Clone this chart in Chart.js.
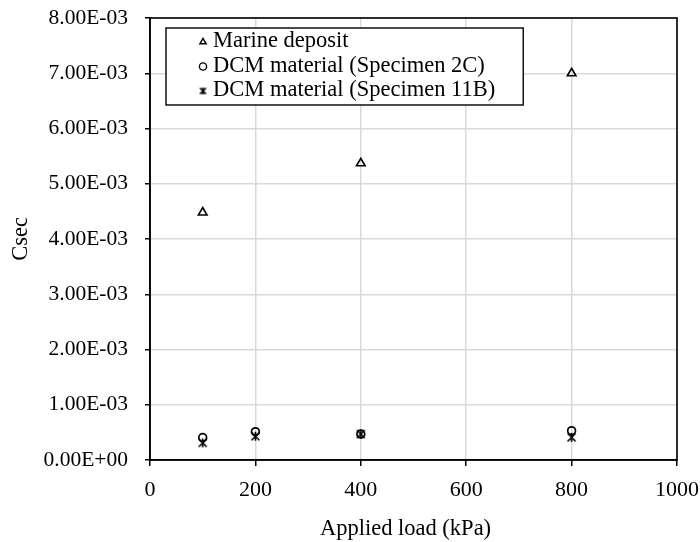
<!DOCTYPE html>
<html>
<head>
<meta charset="utf-8">
<script src="https://cdn.jsdelivr.net/npm/chart.js@4.4.1/dist/chart.umd.min.js"></script>
<style>
  html, body { margin: 0; padding: 0; background: #fff; }
  #wrap { width: 700px; height: 542px; }
</style>
</head>
<body>
<div id="wrap"><canvas id="c" width="700" height="542"></canvas></div>
<script>
// Applied load (kPa) and secondary compression coefficient per material
const marineLoads = [100, 400, 800];
const marineCsec = [0.00448, 0.00537, 0.00700];

const dcm2CLoads = [100, 200, 400, 800];
const dcm2CCsec = [0.000405, 0.000512, 0.00047, 0.000530];

const dcm11BLoads = [100, 200, 400, 800];
const dcm11BCsec = [0.00031, 0.00043, 0.00047, 0.000410];

const seriesLabels = [
  'Marine deposit',
  'DCM material (Specimen 2C)',
  'DCM material (Specimen 11B)'
];

const xTicks = [0, 200, 400, 600, 800, 1000];
const yTicks = [0, 0.001, 0.002, 0.003, 0.004, 0.005, 0.006, 0.007, 0.008];

const xTitle = 'Applied load (kPa)';
const yTitle = 'Csec';

const FONT = '"Liberation Serif", "Times New Roman", serif';

function toPairs(xs, ys) { return xs.map((x, i) => ({ x: x, y: ys[i] })); }

// Excel-style scientific label: 8.00E-03
function sci(v) {
  if (Math.abs(v) < 1e-12) return '0.00E+00';
  const exp = Math.floor(Math.log10(Math.abs(v)) + 1e-9);
  const mant = v / Math.pow(10, exp);
  const sign = exp < 0 ? '-' : '+';
  const e = String(Math.abs(exp)).padStart(2, '0');
  return mant.toFixed(2) + 'E' + sign + e;
}

// asterisk marker (x with a vertical stroke)
function asterisk(size, lw) {
  const cv = document.createElement('canvas');
  cv.width = size; cv.height = size;
  const g = cv.getContext('2d');
  g.strokeStyle = '#000';
  g.lineWidth = lw;
  const m = size / 2, r = size / 2 - 1.5;
  g.beginPath();
  g.moveTo(m - r, m - r); g.lineTo(m + r, m + r);
  g.moveTo(m + r, m - r); g.lineTo(m - r, m + r);
  g.moveTo(m, m - r - 0.5); g.lineTo(m, m + r + 0.5);
  g.stroke();
  return cv;
}
const starBig = asterisk(11, 1.6);
const starSmall = asterisk(9, 1.6);

// full frame around the plot area + x axis title
const frame = {
  id: 'frame',
  afterDraw(chart) {
    const { ctx, chartArea: a } = chart;
    ctx.save();
    ctx.strokeStyle = '#000';
    ctx.lineWidth = 1.6;
    ctx.strokeRect(a.left, a.top, a.right - a.left, a.bottom - a.top);
    ctx.fillStyle = '#000';
    ctx.font = '22.5px ' + FONT;
    ctx.textAlign = 'center';
    ctx.textBaseline = 'alphabetic';
    ctx.fillText(xTitle, (a.left + a.right) / 2 - 8, 535);
    ctx.restore();
  }
};

// boxed legend inside the plot area
const boxLegend = {
  id: 'boxLegend',
  afterDraw(chart) {
    const { ctx } = chart;
    const x0 = 166, y0 = 28, rowH = 24.5, h = 77;
    const markX = 203, textX = 213;
    ctx.save();
    ctx.font = '22.5px ' + FONT;
    let maxW = 0;
    chart.data.datasets.forEach(ds => { maxW = Math.max(maxW, ctx.measureText(ds.label).width); });
    const w = textX + maxW + 28 - x0;
    ctx.fillStyle = '#fff';
    ctx.fillRect(x0, y0, w, h);
    ctx.strokeStyle = '#000';
    ctx.lineWidth = 1.4;
    ctx.strokeRect(x0, y0, w, h);
    chart.data.datasets.forEach((ds, i) => {
      const base = 47 + i * rowH;
      ctx.strokeStyle = '#000';
      ctx.fillStyle = '#fff';
      ctx.lineWidth = 1.4;
      const style = ds.pointStyle === starBig ? starSmall : ds.pointStyle;
      Chart.helpers.drawPoint(ctx, { pointStyle: style, radius: 3.6, rotation: 0, borderWidth: 1.4 }, markX, base - 5);
      ctx.fillStyle = '#000';
      ctx.textBaseline = 'alphabetic';
      ctx.textAlign = 'left';
      ctx.fillText(ds.label, textX, base);
    });
    ctx.restore();
  }
};

new Chart(document.getElementById('c'), {
  type: 'scatter',
  data: {
    datasets: [
      { label: seriesLabels[0], data: toPairs(marineLoads, marineCsec), pointStyle: 'triangle',
        pointRadius: 5, borderColor: '#000', backgroundColor: 'rgba(0,0,0,0)', borderWidth: 1.6 },
      { label: seriesLabels[1], data: toPairs(dcm2CLoads, dcm2CCsec), pointStyle: 'circle',
        pointRadius: 3.9, borderColor: '#000', backgroundColor: 'rgba(0,0,0,0)', borderWidth: 1.7 },
      { label: seriesLabels[2], data: toPairs(dcm11BLoads, dcm11BCsec), pointStyle: starBig,
        pointRadius: 5, borderColor: '#000', backgroundColor: 'rgba(0,0,0,0)', borderWidth: 1.6 }
    ]
  },
  options: {
    responsive: false,
    animation: false,
    devicePixelRatio: 1,
    layout: { padding: { left: 0, top: 18, right: 23, bottom: 0 } },
    plugins: { legend: { display: false }, tooltip: { enabled: false } },
    scales: {
      x: {
        type: 'linear', min: 0, max: 1000,
        afterFit(s) { s.height = 82; s.paddingLeft = 0; s.paddingRight = 0; },
        afterBuildTicks(s) { s.ticks = xTicks.map(v => ({ value: v })); },
        grid: { color: '#d9d9d9', lineWidth: 1.5, tickColor: '#000', tickLength: 6, tickWidth: 1.5 },
        border: { color: '#000', width: 1.6 },
        ticks: { color: '#000', font: { family: FONT, size: 22 }, padding: 11, maxRotation: 0,
          callback: v => String(v) }
      },
      y: {
        type: 'linear', min: 0, max: 0.008,
        afterFit(s) { s.width = 150; s.paddingTop = 0; s.paddingBottom = 0; },
        afterBuildTicks(s) { s.ticks = yTicks.map(v => ({ value: v })); },
        grid: { color: '#d9d9d9', lineWidth: 1.5, tickColor: '#000', tickLength: 5, tickWidth: 1.5 },
        border: { color: '#000', width: 1.6 },
        ticks: { color: '#000', font: { family: FONT, size: 21.5 }, padding: 17, callback: v => sci(v) },
        title: { display: true, text: yTitle, color: '#000',
          font: { family: FONT, size: 22.5 }, padding: { top: 8, bottom: 0 } }
      }
    }
  },
  plugins: [frame, boxLegend]
});
</script>
</body>
</html>
